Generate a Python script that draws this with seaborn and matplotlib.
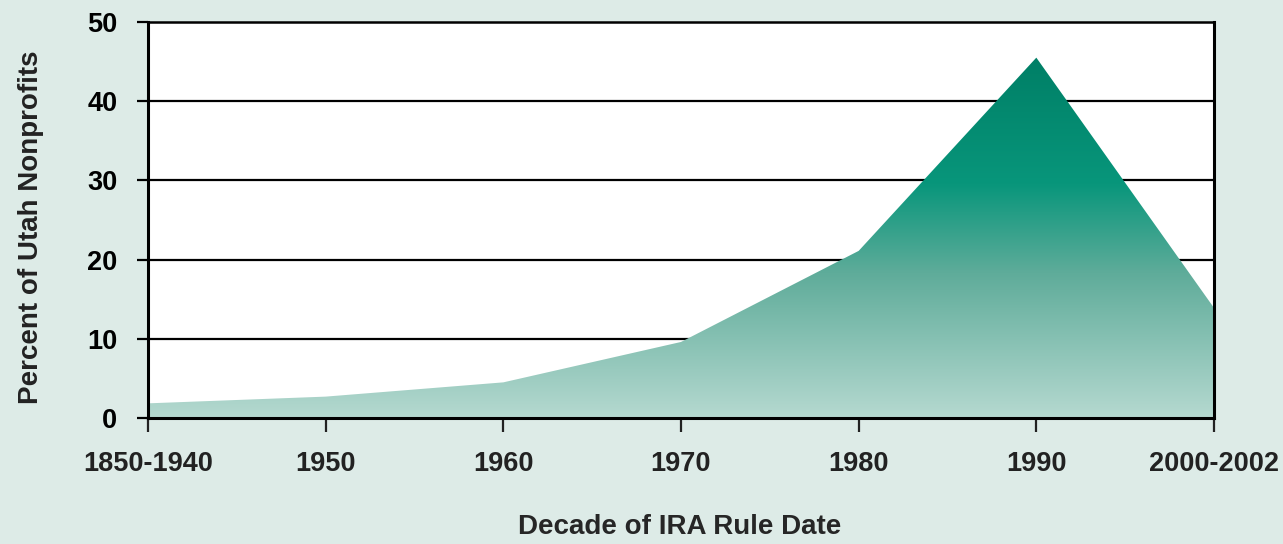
import numpy as np
import pandas as pd
import matplotlib
matplotlib.use("Agg")
import matplotlib.pyplot as plt
from matplotlib.colors import LinearSegmentedColormap
import seaborn as sns

# values
decades = ["1850-1940", "1950", "1960", "1970", "1980", "1990", "2000-2002"]
percent = [1.85, 2.7, 4.5, 9.6, 21.1, 45.5, 13.9]
y_ticks = [0, 10, 20, 30, 40, 50]

bg = "#ddebe7"


def main():
    df = pd.DataFrame({"pos": np.arange(len(decades)), "percent": percent})

    sns.set_style("white")
    plt.rcParams["font.family"] = ["Liberation Sans", "DejaVu Sans"]

    fig = plt.figure(figsize=(12.83, 5.44), dpi=100, facecolor=bg)
    ax = fig.add_axes([148 / 1283, 1 - 418 / 544, 1066 / 1283, 396 / 544])
    ax.set_facecolor("white")

    # invisible line just to set up the data on the axes
    sns.lineplot(data=df, x="pos", y="percent", ax=ax, linewidth=0, color="white")

    # area with a vertical gradient clipped to the filled shape
    area = ax.fill_between(df["pos"], 0, df["percent"], color="none", lw=0)
    cmap = LinearSegmentedColormap.from_list(
        "grn", [(0.0, "#b5d9d0"), (0.4, "#5fac9a"), (0.65, "#08967b"), (1.0, "#007f66")])
    top = max(percent)
    grad = np.linspace(0, 1, 256).reshape(-1, 1)
    img = ax.imshow(grad, cmap=cmap, origin="lower", aspect="auto",
                    extent=[0, len(decades) - 1, 0, top], zorder=1)
    img.set_clip_path(area.get_paths()[0], transform=ax.transData)

    ax.set_xlim(0, len(decades) - 1)
    ax.set_ylim(0, 50)
    ax.set_xticks(df["pos"])
    ax.set_xticklabels(decades)
    ax.set_yticks(y_ticks)
    ax.set_yticklabels([str(t) for t in y_ticks])

    for t in y_ticks[1:-1]:
        ax.axhline(t, color="black", lw=1.6, zorder=0.5)

    for s in ax.spines.values():
        s.set_visible(True)
        s.set_color("black")
        s.set_linewidth(2.2)
        s.set_zorder(3)
    ax.spines["top"].set_linewidth(1.8)

    ax.tick_params(axis="y", direction="out", length=8, width=1.6, pad=14,
                   labelsize=19.5, colors="black", left=True)
    ax.tick_params(axis="x", direction="out", length=10, width=1.6, pad=14,
                   labelsize=19.5, colors="#222222", bottom=True)
    for lab in ax.get_xticklabels() + ax.get_yticklabels():
        lab.set_fontweight("bold")

    ax.set_xlabel("")
    ax.set_ylabel("")
    fig.text(680 / 1283, 1 - 527 / 544, "Decade of IRA Rule Date",
             ha="center", va="center", fontsize=20, fontweight="bold")
    fig.text(31 / 1283, 1 - 227 / 544, "Percent of Utah Nonprofits",
             ha="center", va="center", rotation=90, fontsize=20,
             fontweight="bold", color="#222222")

    fig.savefig("out.png", dpi=100, facecolor=bg)


if __name__ == "__main__":
    main()
